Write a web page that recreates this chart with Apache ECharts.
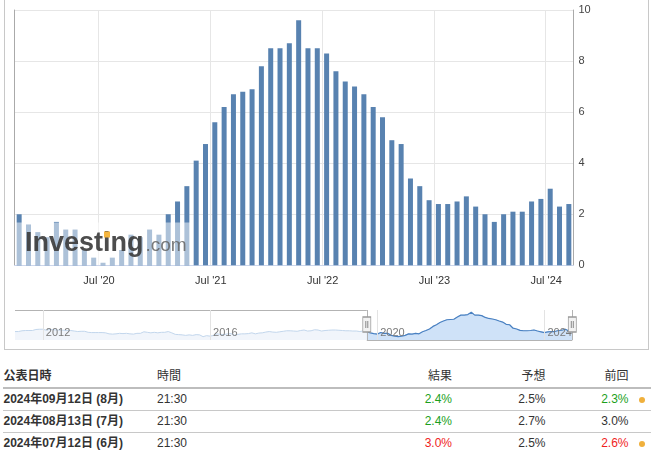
<!DOCTYPE html>
<html>
<head>
<meta charset="utf-8">
<script src="https://cdn.jsdelivr.net/npm/echarts@6/dist/echarts.min.js"></script>
<style>
html,body{margin:0;padding:0;background:#fff;width:651px;height:454px;overflow:hidden;
  font-family:Arial,"Liberation Sans","Noto Sans CJK JP",sans-serif;}
#frame{position:absolute;left:4px;top:-1px;width:645px;height:351px;border:1px solid #c8c8c8;box-sizing:border-box;}
#chart{position:absolute;left:0;top:0;width:651px;height:352px;}
.row{position:absolute;left:3px;width:648px;}
.cell{position:absolute;top:0;font-size:12px;color:#333;white-space:nowrap;}
.b{font-weight:bold}
.dot{position:absolute;width:6px;height:6px;border-radius:50%;background:#f0b03c;}
</style>
</head>
<body>
<div id="frame"></div>
<div id="chart"></div>
<div id="table"></div>
<script>
// ---------- data ----------
// main chart: data month YYYY-MM (released following month), Sep 2019 .. Aug 2024
const mainValues = [2.0,1.6,1.3,1.1,1.7,1.4,1.4,0.6,0.3,0.1,
  0.3,0.6,1.2,1.1,1.4,1.2,2.0,2.5,3.1,4.1,
  4.75,5.6,6.2,6.7,6.8,6.9,7.8,8.5,8.5,8.7,
  9.6,8.5,8.5,8.3,7.6,7.2,7.0,6.7,6.2,5.8,
  4.9,4.75,3.4,3.1,2.55,2.4,2.4,2.5,2.7,2.3,
  2.0,1.7,2.0,2.1,2.1,2.5,2.6,3.0,2.3,2.4];
// navigator history: Apr 2011 .. Aug 2019
const historyValues = [
  2.1,2.1,2.4,2.5,2.5,2.5,2.9,3.0,3.0,
  2.6,3.0,2.8,2.7,2.7,2.6,2.5,2.5,2.3,2.1,2.2,2.2,
  1.8,1.7,1.7,1.7,1.7,1.6,1.2,1.1,1.2,1.4,1.3,1.4,
  1.2,1.1,1.4,1.4,2.0,1.8,1.6,1.8,1.6,1.8,1.8,2.1,
  1.6,1.0,0.9,0.8,0.6,0.8,0.6,0.9,0.8,0.1,0.5,0.3,
  0.6,1.2,1.0,0.9,1.2,1.3,0.7,1.0,1.2,1.2,1.3,1.6,
  1.2,1.5,1.6,1.9,2.1,1.9,1.8,2.0,2.2,2.4,2.4,2.3,
  2.2,2.5,2.7,2.3,2.4,2.8,2.7,2.3,2.5,2.6,2.7,2.7,
  2.6,2.5,2.4,2.4,2.3,2.3,2.1,2.3];
const yTicks = [0, 2, 4, 6, 8, 10];
const navYearLabels = ['2012', '2016', '2020', '2024'];

// table
const tableHeaders = ['公表日時', '時間', '結果', '予想', '前回'];
const releaseDates = ['2024年09月12日 (8月)', '2024年08月13日 (7月)', '2024年07月12日 (6月)'];
const releaseTimes = ['21:30', '21:30', '21:30'];
const actuals = ['2.4%', '2.4%', '3.0%'];
const forecasts = ['2.5%', '2.7%', '2.5%'];
const previous = ['2.3%', '3.0%', '2.6%'];
const actualTone = ['up', 'up', 'down'];
const previousTone = ['up', '', 'down'];
const previousRevised = [true, false, true];

// ---------- categories ----------
function months(y, m, n) {
  const out = [];
  for (let i = 0; i < n; i++) {
    const mm = ((m - 1 + i) % 12) + 1;
    const yy = y + Math.floor((m - 1 + i) / 12);
    out.push(yy + '-' + (mm < 10 ? '0' : '') + mm);
  }
  return out;
}
const mainCats = months(2019, 9, mainValues.length);
const navValues = historyValues.concat(mainValues);
const navCats = months(2011, 4, navValues.length);
const selStart = historyValues.length;
const navSelected = navValues.map((v, i) => i >= selStart ? v : null);
const NAV_MIN = -1.2, NAV_MAX = 10.5;
const handleY = 4.85;

const isJulRelease = (v) => v.slice(5) === '06';
const isNavYearTick = (v) => v.slice(5) === '12' && navYearLabels.indexOf(String(+v.slice(0, 4) + 1)) >= 0;

const chart = echarts.init(document.getElementById('chart'), null, {renderer: 'canvas'});
const FONT = 'Arial, "Liberation Sans", sans-serif';

chart.setOption({
  animation: false,
  grid: [
    {left: 14.5, top: 10, width: 559, height: 255.3, outerBoundsMode: 'none', containLabel: false},
    {left: 15, top: 310, width: 557.3, height: 30, outerBoundsMode: 'none', containLabel: false}
  ],
  xAxis: [
    {
      type: 'category', gridIndex: 0, data: mainCats, boundaryGap: true,
      axisLine: {show: true, lineStyle: {color: '#ccd6eb', width: 1}},
      axisTick: {show: false},
      axisLabel: {
        interval: (i, v) => isJulRelease(v),
        formatter: (v) => "Jul '" + v.slice(2, 4),
        color: '#333', fontSize: 11, fontFamily: FONT, margin: 10,
        padding: [0, 8, 0, 0]
      },
      splitLine: {show: true, interval: (i, v) => isJulRelease(v), lineStyle: {color: '#e6e6e6', width: 1}}
    },
    {
      type: 'category', gridIndex: 1, data: navCats, boundaryGap: false, z: 10,
      axisLine: {show: false}, axisTick: {show: false},
      axisLabel: {
        inside: true, interval: (i, v) => isNavYearTick(v),
        formatter: (v) => String(+v.slice(0, 4) + 1),
        align: 'left', padding: [0, 0, 0, 3], margin: 2,
        color: '#7a7a7a', fontSize: 11, fontFamily: FONT
      },
      splitLine: {show: true, interval: (i, v) => isNavYearTick(v), lineStyle: {color: '#e3e3e3', width: 1}}
    }
  ],
  yAxis: [
    {
      type: 'value', gridIndex: 0, position: 'right', min: yTicks[0], max: yTicks[yTicks.length - 1], interval: 2,
      axisLine: {show: true, lineStyle: {color: '#aaaaaa'}},
      axisTick: {show: false},
      axisLabel: {color: '#444', fontSize: 11, fontFamily: FONT, margin: 5},
      splitLine: {show: true, lineStyle: {color: '#e6e6e6', width: 1}}
    },
    {
      type: 'value', gridIndex: 0, position: 'left', min: 0, max: 10,
      axisLine: {show: true, lineStyle: {color: '#aaaaaa'}},
      axisTick: {show: false}, axisLabel: {show: false}, splitLine: {show: false}
    },
    {
      type: 'value', gridIndex: 1, min: NAV_MIN, max: NAV_MAX, show: false
    }
  ],
  series: [
    {
      type: 'bar', xAxisIndex: 0, yAxisIndex: 0, data: mainValues,
      barWidth: 5, itemStyle: {color: '#5882b0'}, z: 2
    },
    {
      type: 'line', xAxisIndex: 1, yAxisIndex: 2, data: navValues,
      showSymbol: false, smooth: false,
      lineStyle: {color: '#c2d6ec', width: 1},
      areaStyle: {color: '#f1f5fb', origin: 'start', opacity: 1},
      z: 1
    },
    {
      type: 'line', xAxisIndex: 1, yAxisIndex: 2, data: navSelected,
      showSymbol: false, connectNulls: false,
      lineStyle: {color: '#4a81c2', width: 1.2},
      areaStyle: {color: '#cfe2f8', origin: 'start', opacity: 1},
      z: 2,
      markLine: {
        silent: true, symbol: ['none', 'none'], animation: false,
        label: {show: false},
        lineStyle: {color: '#b3b3b3', width: 1, type: 'solid'},
        data: [
          [{coord: [navCats[0], NAV_MAX]}, {coord: [navCats[selStart], NAV_MAX]}],
          [{coord: [navCats[selStart], NAV_MAX]}, {coord: [navCats[selStart], NAV_MIN]}],
          [{coord: [navCats[selStart], NAV_MIN]}, {coord: [navCats[navCats.length - 1], NAV_MIN]}],
          [{coord: [navCats[navCats.length - 1], NAV_MIN]}, {coord: [navCats[navCats.length - 1], NAV_MAX]}]
        ]
      }
    },
    {
      type: 'scatter', xAxisIndex: 1, yAxisIndex: 2,
      data: [[navCats[selStart], handleY], [navCats[navCats.length - 1], handleY]],
      symbol: 'rect', symbolSize: [8, 15], silent: true,
      itemStyle: {color: '#f2f2f2', borderColor: '#999', borderWidth: 1, opacity: 1}, z: 15
    },
    {
      type: 'scatter', xAxisIndex: 1, yAxisIndex: 2,
      data: [[navCats[selStart], handleY], [navCats[navCats.length - 1], handleY]],
      symbol: 'path://M0,0L0,7M2,0L2,7', symbolSize: [2, 7], silent: true,
      itemStyle: {color: 'rgba(0,0,0,0)', borderColor: '#888', borderWidth: 1, opacity: 1}, z: 16
    }
  ],
  graphic: [
    {type: 'rect', z: 50, silent: true, shape: {x: 15, y: 222.5, width: 178, height: 42.5},
     style: {fill: 'rgba(255,255,255,0.5)'}},
    {type: 'text', z: 51, silent: true, x: 25, y: 243.5,
     style: {text: 'Investing', font: 'bold 27px Arial, "Liberation Sans", sans-serif',
             fill: 'rgba(58,58,58,0.9)', verticalAlign: 'middle', align: 'left'}},
    {type: 'text', z: 51, silent: true, x: 145.5, y: 246,
     style: {text: '.com', font: '19px Arial, "Liberation Sans", sans-serif',
             fill: 'rgba(100,100,100,0.85)', verticalAlign: 'middle', align: 'left'}},
    {type: 'rect', z: 52, silent: true, shape: {x: 104, y: 231.5, width: 6, height: 6},
     style: {fill: '#f5b53e'}}
  ]
});

// ---------- table ----------
const tbl = document.getElementById('table');
const GREEN = '#1c9f1c', RED = '#f01e1e';
function toneColor(t) { return t === 'up' ? GREEN : (t === 'down' ? RED : '#333'); }
function addRow(top, height, cells, borderCss) {
  const row = document.createElement('div');
  row.className = 'row';
  row.style.top = top + 'px';
  row.style.height = height + 'px';
  if (borderCss) row.style.borderBottom = borderCss;
  cells.forEach(c => {
    const d = document.createElement('div');
    d.className = 'cell ' + (c.cls || '');
    d.textContent = c.text;
    d.style.lineHeight = height + 'px';
    if (c.left !== undefined) d.style.left = c.left + 'px';
    if (c.right !== undefined) d.style.right = c.right + 'px';
    if (c.color) d.style.color = c.color;
    row.appendChild(d);
    if (c.dot) {
      const dot = document.createElement('div');
      dot.className = 'dot';
      dot.style.left = '636px';
      dot.style.top = (height / 2 - 3) + 'px';
      row.appendChild(dot);
    }
  });
  tbl.appendChild(row);
}
addRow(366, 21, [
  {text: tableHeaders[0], left: 0.5, cls: 'b'},
  {text: tableHeaders[1], left: 154},
  {text: tableHeaders[2], right: 199},
  {text: tableHeaders[3], right: 105.5},
  {text: tableHeaders[4], right: 22.5}
], '2px solid #bdbdbd');
const rowTops = [389, 411, 433];
releaseDates.forEach((d, i) => {
  addRow(rowTops[i], 21, [
    {text: d, left: 0.5, cls: 'b'},
    {text: releaseTimes[i], left: 154},
    {text: actuals[i], right: 199, color: toneColor(actualTone[i])},
    {text: forecasts[i], right: 105.5},
    {text: previous[i], right: 22.5, color: toneColor(previousTone[i]), dot: previousRevised[i]}
  ], i < releaseDates.length - 1 ? '1px solid #c8c8c8' : null);
});
</script>
</body>
</html>
